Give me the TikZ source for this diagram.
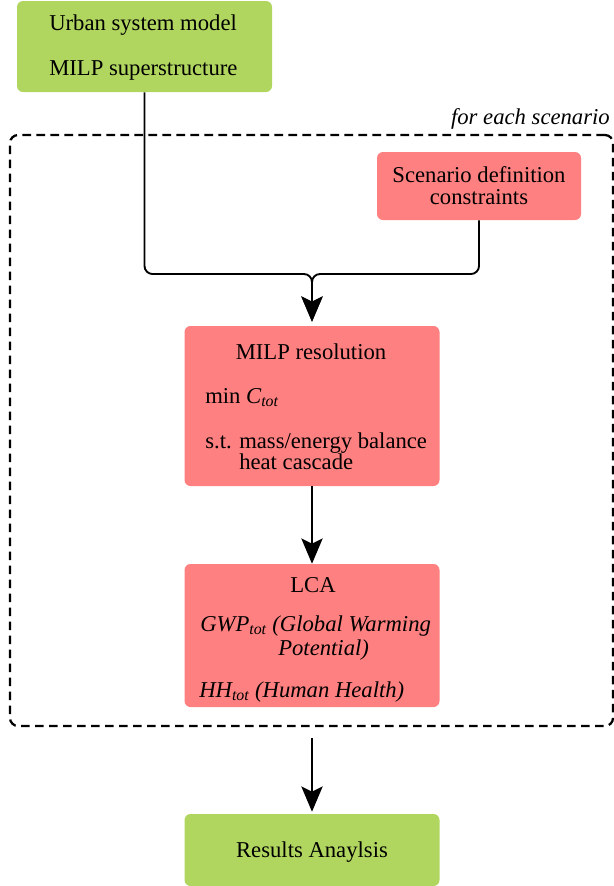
\documentclass[tikz,border=0pt]{standalone}
\usepackage{fontspec}
\setmainfont{Liberation Serif}
\usetikzlibrary{arrows.meta}
\definecolor{bbddqq}{rgb}{0.69,0.84,0.376}
\definecolor{ffqqqq}{rgb}{1,0.5,0.5}
\tikzset{
  greenbox/.style={fill=bbddqq,rounded corners=4.5pt,inner sep=0pt,minimum width=191.25pt},
  redbox/.style={fill=ffqqqq,rounded corners=4.5pt,inner sep=0pt},
  loopbox/.style={draw,line width=1.7pt,dash pattern=on 6.5pt off 4pt,rounded corners=6pt,inner sep=0pt},
  txt/.style={inner sep=0pt,anchor=base west},
  ctxt/.style={inner sep=0pt,anchor=base},
  flow/.style={line width=1.4pt,rounded corners=6pt,-{Stealth[length=19pt,width=16pt,inset=4pt]}}
}
\begin{document}
\begin{tikzpicture}[x=0.75pt,y=-0.75pt,node font=\fontsize{17}{20}\selectfont]
\useasboundingbox (0,0) rectangle (614,886);
% boxes
\node [greenbox,minimum height=68.25pt] (urban) at (144.5,46.5) {};
\node [redbox,minimum width=153pt,minimum height=51pt] (scen) at (479,186) {};
\node [redbox,minimum width=191.25pt,minimum height=120pt] (milp) at (312,406) {};
\node [redbox,minimum width=191.25pt,minimum height=107.25pt] (lca) at (312,635.5) {};
\node [greenbox,minimum height=54pt] (res) at (312,850) {};
\node [loopbox,minimum width=452.25pt,minimum height=443.25pt] (loop) at (311.5,430.5) {};
% texts
\node [txt] (t1) at (49,30) {Urban system model};
\node [txt] (t2) at (49,75) {MILP superstructure};
\node [ctxt] (t3) at (479,182) {Scenario definition};
\node [ctxt] (t4) at (479,204) {constraints};
\node [ctxt] (t5) at (311,359) {MILP resolution};
\node [txt] (t6) at (205,403) {min \textit{C\textsubscript{tot}}};
\node [txt] (t7) at (205,448) {s.t. mass/energy balance};
\node [txt] (t8) at (239,469) {heat cascade};
\node [ctxt] (t9) at (313,592) {LCA};
\node [txt] (t10) at (200,631) {\textit{GWP\textsubscript{tot} (Global Warming}};
\node [txt] (t11) at (278,655) {\textit{Potential)}};
\node [txt] (t12) at (199,697) {\textit{HH\textsubscript{tot} (Human Health)}};
\node [ctxt] (t13) at (312,857) {Results Anaylsis};
\node [inner sep=0pt,anchor=base east] (t14) at (610,124) {\textit{for each scenario}};
% connectors
\coordinate (join) at (312,274);
\draw [flow,shorten >=3pt] (urban.south) |- (join) -- (milp.north);
\draw [flow,shorten >=3pt] (scen.south) |- (join) -- (milp.north);
\draw [flow] (milp.south) -- (lca.north);
\draw [flow,shorten <=8pt,shorten >=1.5pt] (loop.south -| res.north) -- (res.north);
\end{tikzpicture}
\end{document}
